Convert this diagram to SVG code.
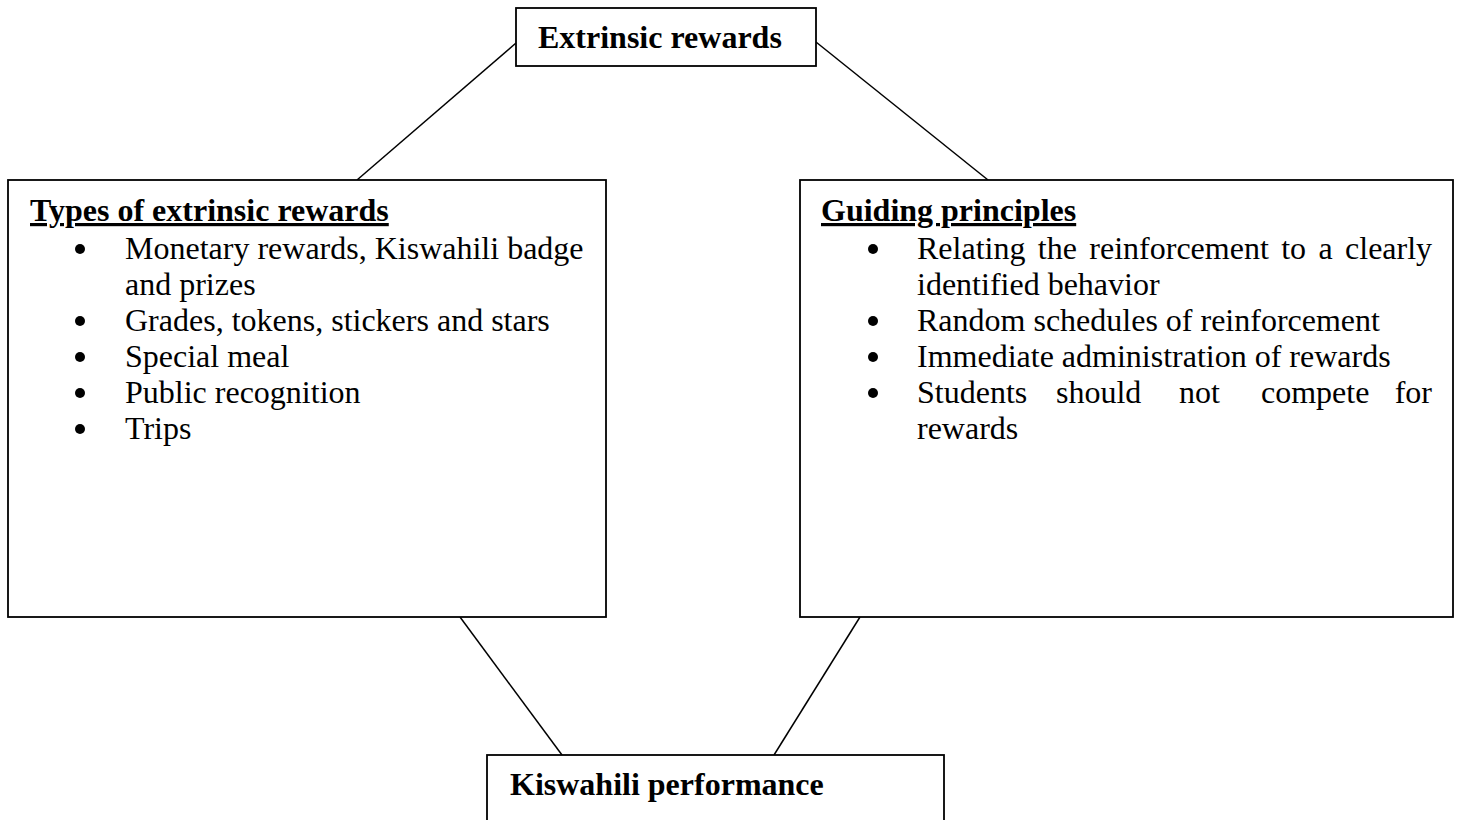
<svg xmlns="http://www.w3.org/2000/svg" width="1461" height="820" viewBox="0 0 1461 820">
<style>
.box{fill:#fff;stroke:#000;stroke-width:1.8}
.conn{stroke:#000;stroke-width:1.5;fill:none}
text{font-family:"Liberation Serif","Times New Roman",serif;font-size:32px;fill:#000}
.b{font-weight:bold}
.u{text-decoration:underline}
.dot{fill:#000}
</style>
<rect width="1461" height="820" fill="#fff"/>
<g id="connectors">
<line class="conn" x1="516" y1="43" x2="357" y2="180"/>
<line class="conn" x1="816" y1="42" x2="988" y2="180"/>
<line class="conn" x1="460" y1="617" x2="562" y2="755"/>
<line class="conn" x1="860" y1="617" x2="774" y2="755"/>
</g>
<g id="extrinsic-rewards">
<rect class="box" x="516" y="8" width="300" height="58"/>
<text class="b" x="538" y="48">Extrinsic rewards</text>
</g>
<g id="types-of-extrinsic-rewards">
<rect class="box" x="8" y="180" width="598" height="437"/>
<text class="b u" x="30" y="221">Types of extrinsic rewards</text>
<circle class="dot" cx="80" cy="249" r="5"/>
<text x="125" y="259">Monetary rewards, Kiswahili badge</text>
<text x="125" y="295">and prizes</text>
<circle class="dot" cx="80" cy="321" r="5"/>
<text x="125" y="331">Grades, tokens, stickers and stars</text>
<circle class="dot" cx="80" cy="357" r="5"/>
<text x="125" y="367">Special meal</text>
<circle class="dot" cx="80" cy="393" r="5"/>
<text x="125" y="403">Public recognition</text>
<circle class="dot" cx="80" cy="429" r="5"/>
<text x="125" y="439">Trips</text>
</g>
<g id="guiding-principles">
<rect class="box" x="800" y="180" width="653" height="437"/>
<text class="b u" x="821" y="221">Guiding principles</text>
<circle class="dot" cx="873" cy="249" r="5"/>
<text x="917" y="259" style="word-spacing:4.4px">Relating the reinforcement to a clearly</text>
<text x="917" y="295">identified behavior</text>
<circle class="dot" cx="873" cy="321" r="5"/>
<text x="917" y="331">Random schedules of reinforcement</text>
<circle class="dot" cx="873" cy="357" r="5"/>
<text x="917" y="367">Immediate administration of rewards</text>
<circle class="dot" cx="873" cy="393" r="5"/>
<text y="403"><tspan x="917">Students</tspan><tspan x="1056">should</tspan><tspan x="1179">not</tspan><tspan x="1261">compete</tspan><tspan x="1432" text-anchor="end">for</tspan></text>
<text x="917" y="439">rewards</text>
</g>
<g id="kiswahili-performance">
<rect class="box" x="487" y="755" width="457" height="80"/>
<text class="b" x="510" y="795">Kiswahili performance</text>
</g>
</svg>
